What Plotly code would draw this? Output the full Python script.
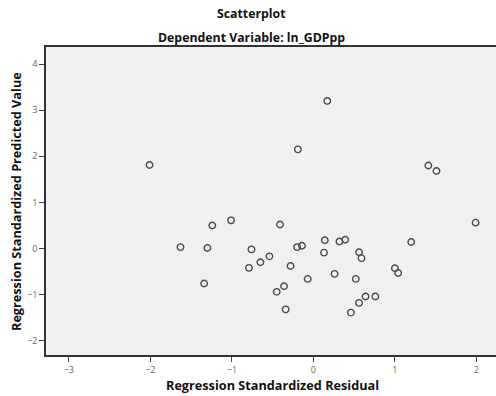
import plotly.graph_objects as go

residual = [-2.01, 0.17, -0.19, 1.41, 1.51, -1.24, -1.01, -0.41, -1.63, -1.30,
            -0.76, -0.54, -0.65, -0.79, -1.34, -0.45, 1.99, -0.20, -0.14, 0.14,
            0.32, 0.39, 1.20, 0.13, 0.56, 0.59, -0.28, 1.00, 1.04, -0.07,
            0.26, 0.52, -0.36, 0.64, 0.76, 0.56, -0.34, 0.46]
predicted = [1.81, 3.20, 2.15, 1.80, 1.68, 0.50, 0.61, 0.52, 0.03, 0.01,
             -0.02, -0.17, -0.30, -0.42, -0.76, -0.94, 0.56, 0.03, 0.06, 0.18,
             0.15, 0.19, 0.14, -0.09, -0.08, -0.21, -0.38, -0.43, -0.53, -0.66,
             -0.55, -0.66, -0.82, -1.04, -1.04, -1.18, -1.32, -1.39]
x_ticks = [-3, -2, -1, 0, 1, 2]
y_ticks = [-2, -1, 0, 1, 2, 3, 4]

fig = go.Figure(go.Scatter(
    x=residual, y=predicted, mode="markers",
    marker=dict(symbol="circle-open", size=6.5, color="#4a4a4a", line=dict(width=1.4)),
    hoverinfo="skip"))

font = "Open Sans"
L, R, T, B = 46, 0, 47, 41
W, H = 496, 396
PW, PH = W - L - R, H - T - B


def px(x):
    return (x - L) / PW


def py(y):
    return (H - B - y) / PH


tfont = dict(family=font, size=12.3, color="#111")
afont = dict(family=font, size=12.7, color="#111")
fig.update_layout(
    width=W, height=H,
    margin=dict(l=L, r=R, t=T, b=B, autoexpand=False),
    paper_bgcolor="white", plot_bgcolor="#f0f0f0",
    showlegend=False,
    annotations=[
        dict(text="<b>Scatterplot</b>", xref="paper", yref="paper", x=px(251), y=py(14),
             xanchor="center", yanchor="middle", showarrow=False, font=tfont),
        dict(text="<b>Dependent Variable: ln_GDPpp</b>", xref="paper", yref="paper", x=px(251),
             y=py(38), xanchor="center", yanchor="middle", showarrow=False, font=tfont),
        dict(text="<b>Regression Standardized Predicted Value</b>", xref="paper", yref="paper",
             x=px(16), y=py(202), xanchor="center", yanchor="middle", textangle=-90,
             showarrow=False, font=afont),
        dict(text="<b>Regression Standardized Residual</b>", xref="paper", yref="paper",
             x=px(272), y=py(385), xanchor="center", yanchor="middle",
             showarrow=False, font=afont),
    ],
)
axis_style = dict(ticks="outside", ticklen=5, tickwidth=1, tickcolor="#444", showgrid=False,
                  zeroline=False, showline=True, linecolor="#333", linewidth=1.5, mirror=True,
                  tickfont=dict(family=font, size=9, color="#666"), automargin=False)
fig.update_xaxes(range=[-3.28, 2.24], tickvals=x_ticks, **axis_style)
fig.update_yaxes(range=[-2.31, 4.37], tickvals=y_ticks, **axis_style)
fig.write_html("out.html", config={"displayModeBar": False},
               post_script="document.body.style.margin='0px';document.body.style.overflow='hidden';")
